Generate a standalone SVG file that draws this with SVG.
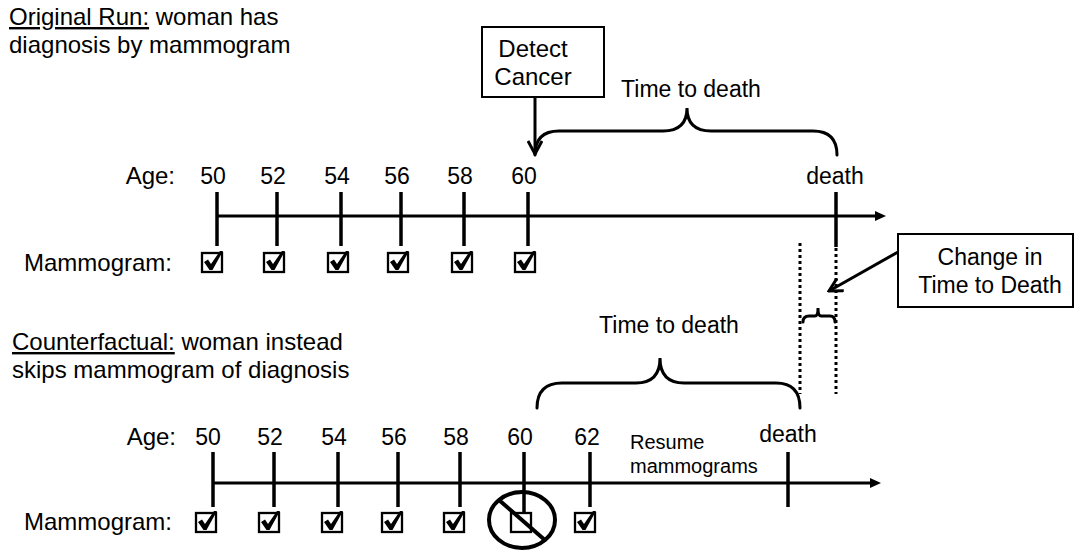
<svg xmlns="http://www.w3.org/2000/svg" xmlns:xlink="http://www.w3.org/1999/xlink" width="1079" height="556" viewBox="0 0 1079 556">
<style>
text{font-family:"Liberation Sans",Arial,sans-serif;fill:#000}
.t{font-size:23px}
.h{font-size:24px}
.s{font-size:20px}
.m{text-anchor:middle}
.e{text-anchor:end}
.ln{stroke:#000;stroke-width:3;fill:none}
.tk{stroke:#000;stroke-width:3.5;fill:none}
.br{stroke:#000;stroke-width:3;fill:none;stroke-linecap:round}
.dot{stroke:#000;stroke-width:3;stroke-dasharray:3,3;fill:none}
.box{fill:#fff;stroke:#000;stroke-width:2}
</style>
<defs>
<marker id="chev" viewBox="0 0 16 16" refX="14" refY="8" markerWidth="16" markerHeight="16" orient="auto" markerUnits="userSpaceOnUse">
<path d="M1,1 L14,8 L1,15" fill="none" stroke="#000" stroke-width="3"/>
</marker>
<g id="chk">
<rect x="0" y="0" width="20" height="19" fill="none" stroke="#000" stroke-width="2.3"/>
<polygon points="2,9 6,6.5 9,11 18,-2 21,-2 10.5,17 7.5,17" fill="#000"/>
</g>
<rect id="emp" x="0" y="0" width="20" height="19" fill="none" stroke="#000" stroke-width="2.3"/>
</defs>
<rect width="1079" height="556" fill="#fff"/>

<g id="header-original">
<text class="h" x="9" y="25"><tspan text-decoration="underline">Original Run:</tspan> woman has</text>
<text class="h" x="9" y="53">diagnosis by mammogram</text>
</g>

<g id="header-counterfactual">
<text class="h" x="12" y="350"><tspan text-decoration="underline">Counterfactual:</tspan> woman instead</text>
<text class="h" x="12" y="378">skips mammogram of diagnosis</text>
</g>

<g id="connectors">
<line class="ln" x1="535" y1="97" x2="535" y2="154" marker-end="url(#chev)"/>
<line class="ln" x1="898" y1="252" x2="829" y2="291" marker-end="url(#chev)"/>
<path class="br" d="M535,155 Q535,131 559,131 L663,131 Q687,131 687,108 Q687,131 711,131 L813,131 Q837,131 837,155"/>
<path class="br" d="M537,408 Q537,383 562,383 L636,383 Q660,383 660,358 Q660,383 684,383 L776,383 Q800,383 800,408"/>
<path class="br" d="M803,322 Q803,316 809,316 L815,316 Q818,316 818,308 Q818,316 821,316 L830,316 Q835,316 835,322"/>
<line class="dot" x1="800" y1="243" x2="800" y2="394"/>
<line class="dot" x1="836" y1="248" x2="836" y2="394"/>
</g>

<g id="detect-cancer">
<rect class="box" x="482" y="27" width="122" height="70"/>
<text class="h m" x="533" y="57">Detect</text>
<text class="h m" x="533" y="85">Cancer</text>
</g>

<g id="change-box">
<rect class="box" x="898" y="234" width="175" height="73"/>
<text class="t m" x="990" y="265">Change in</text>
<text class="t m" x="990" y="293">Time to Death</text>
</g>

<g id="top-timeline">
<text class="t m" x="691" y="97">Time to death</text>
<text class="h e" x="175" y="184">Age:</text>
<text class="h e" x="172" y="271">Mammogram:</text>
<line class="ln" x1="216" y1="216" x2="878" y2="216"/>
<polygon points="875,211 886,216 875,221" fill="#000"/>
<g class="tk">
<line x1="217" y1="192" x2="217" y2="246"/>
<line x1="277" y1="192" x2="277" y2="246"/>
<line x1="341" y1="192" x2="341" y2="246"/>
<line x1="401" y1="192" x2="401" y2="246"/>
<line x1="464" y1="192" x2="464" y2="246"/>
<line x1="528" y1="192" x2="528" y2="246"/>
<line x1="836" y1="192" x2="836" y2="247"/>
</g>
<text class="t m" x="213" y="184">50</text>
<text class="t m" x="273" y="184">52</text>
<text class="t m" x="337" y="184">54</text>
<text class="t m" x="397" y="184">56</text>
<text class="t m" x="460" y="184">58</text>
<text class="t m" x="524" y="184">60</text>
<text class="t m" x="835" y="184">death</text>
<use xlink:href="#chk" x="202" y="253"/>
<use xlink:href="#chk" x="264" y="253"/>
<use xlink:href="#chk" x="328" y="253"/>
<use xlink:href="#chk" x="388" y="253"/>
<use xlink:href="#chk" x="452" y="253"/>
<use xlink:href="#chk" x="515" y="253"/>
</g>

<g id="bottom-timeline">
<text class="t m" x="669" y="333">Time to death</text>
<text class="h e" x="176" y="445">Age:</text>
<text class="h e" x="172" y="530">Mammogram:</text>
<line class="ln" x1="212" y1="483" x2="872" y2="483"/>
<polygon points="870,478 881,483 870,488" fill="#000"/>
<g class="tk">
<line x1="213" y1="452" x2="213" y2="507"/>
<line x1="274" y1="452" x2="274" y2="507"/>
<line x1="338" y1="452" x2="338" y2="507"/>
<line x1="398" y1="452" x2="398" y2="507"/>
<line x1="460" y1="452" x2="460" y2="507"/>
<line x1="524" y1="452" x2="524" y2="513"/>
<line x1="590" y1="452" x2="590" y2="507"/>
<line x1="788" y1="452" x2="788" y2="507"/>
</g>
<text class="t m" x="208" y="445">50</text>
<text class="t m" x="270" y="445">52</text>
<text class="t m" x="334" y="445">54</text>
<text class="t m" x="394" y="445">56</text>
<text class="t m" x="456" y="445">58</text>
<text class="t m" x="520" y="445">60</text>
<text class="t m" x="587" y="445">62</text>
<text class="t m" x="788" y="442">death</text>
<text class="s" x="630" y="449">Resume</text>
<text class="s" x="630" y="473">mammograms</text>
<use xlink:href="#chk" x="196" y="513"/>
<use xlink:href="#chk" x="259" y="513"/>
<use xlink:href="#chk" x="322" y="513"/>
<use xlink:href="#chk" x="382" y="513"/>
<use xlink:href="#chk" x="444" y="513"/>
<use xlink:href="#chk" x="575" y="513"/>
</g>

<g id="skipped-mammogram">
<use xlink:href="#emp" x="511" y="513"/>
<ellipse cx="522" cy="520" rx="33" ry="28" fill="none" stroke="#000" stroke-width="4"/>
<line x1="499" y1="500" x2="546" y2="541" stroke="#000" stroke-width="4"/>
</g>
</svg>
